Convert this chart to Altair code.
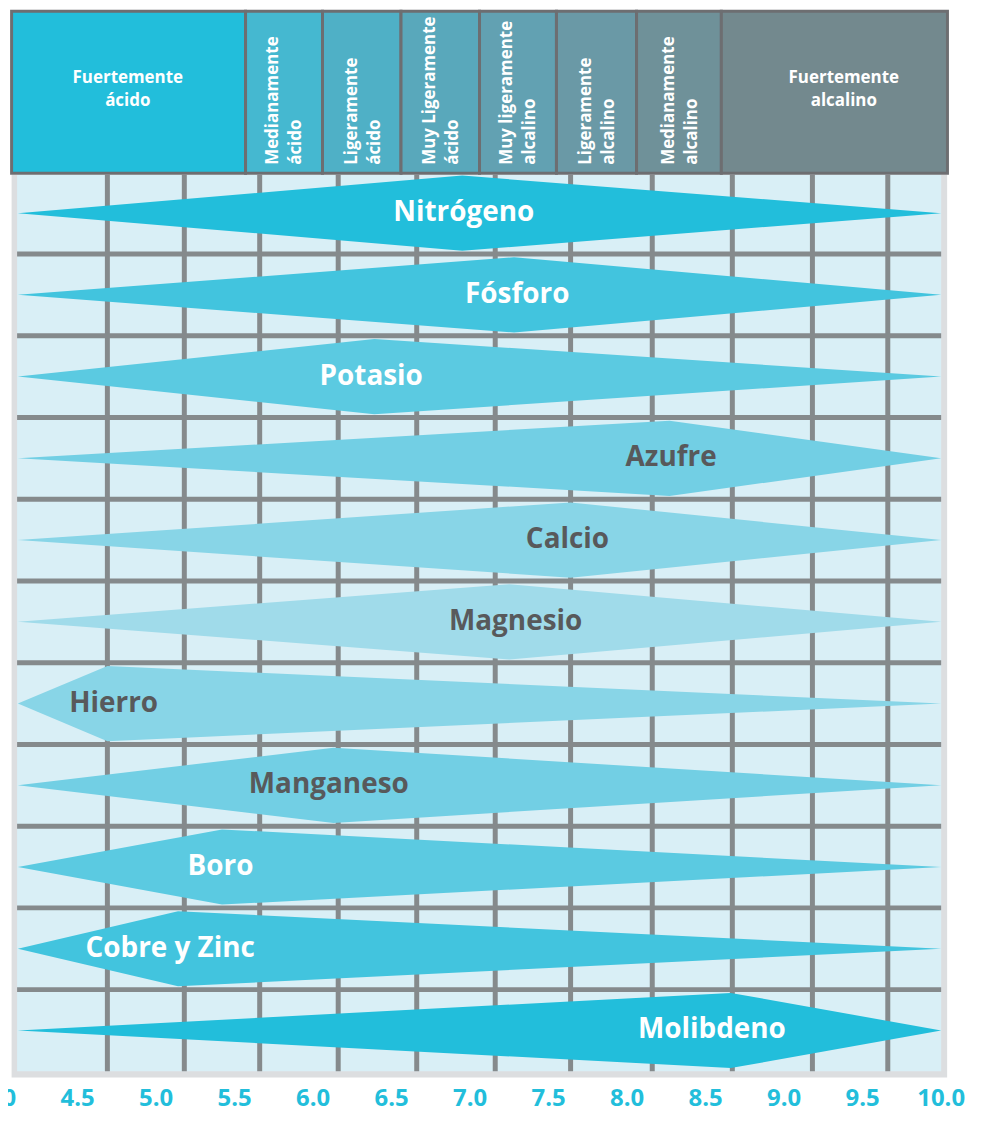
import altair as alt
import pandas as pd

# ---------------- data ----------------
nutrients = ["Nitrógeno", "Fósforo", "Potasio", "Azufre", "Calcio", "Magnesio",
             "Hierro", "Manganeso", "Boro", "Cobre y Zinc", "Molibdeno"]
range_low = [4.12] * 11
peak_ph = [6.95, 7.28, 6.39, 8.27, 7.64, 7.25, 4.69, 6.13, 5.42, 5.14, 8.66]
range_high = [10.0] * 11
label_ph = [6.96, 7.30, 6.37, 8.28, 7.62, 7.29, 4.73, 6.10, 5.41, 5.09, 8.54]
nutrient_colors = ["#22bedb", "#42c4de", "#5bcae1", "#72cfe4", "#88d5e7", "#a0dbea",
                   "#88d5e7", "#72cfe4", "#5bcae1", "#42c4de", "#22bedb"]
label_colors = ["#ffffff", "#ffffff", "#ffffff", "#58595b", "#58595b", "#58595b",
                "#58595b", "#58595b", "#ffffff", "#ffffff", "#ffffff"]

zone_names = ["Fuertemente\nácido", "Medianamente\nácido", "Ligeramente\nácido",
              "Muy Ligeramente\nácido", "Muy ligeramente\nalcalino",
              "Ligeramente\nalcalino", "Medianamente\nalcalino", "Fuertemente\nalcalino"]
zone_bounds = [4.08, 5.57, 6.06, 6.56, 7.06, 7.55, 8.06, 8.6, 10.04]
zone_label_ph = [4.82, 5.81, 6.31, 6.81, 7.30, 7.80, 8.33, 9.38]
zone_colors = ["#22bedb", "#45b8d0", "#4fb0c6", "#59a8bb", "#62a1b2",
               "#6a99a6", "#6f9199", "#73898e"]
zone_rotated = [False, True, True, True, True, True, True, False]

tick_values = [4.0, 4.5, 5.0, 5.5, 6.0, 6.5, 7.0, 7.5, 8.0, 8.5, 9.0, 9.5, 10.0]
grid_ph = [4.69, 5.18, 5.66, 6.16, 6.66, 7.16, 7.64, 8.16, 8.67, 9.18, 9.66]

# ---------------- layout ----------------
W, H = 975, 1106
PX_PER_PH = 157.67
XS = alt.Scale(domain=[4.0571, 4.0571 + W / PX_PER_PH], nice=False, zero=False)
YS = alt.Scale(domain=[-2.482, 10.994], reverse=True, nice=False, zero=False)
HALF = 0.46
PANEL_L, PANEL_R, PANEL_T, PANEL_B = 4.115, 10.0, -0.47, 10.50
OUTER_L, OUTER_R, OUTER_B = 4.08, 10.038, 10.575
HEAD_T, HEAD_B = -2.47, -0.488
LINE_H = 23
ROT_SHIFT_PX = 10
FONT = "Open Sans"


def X(f):
    return alt.X(f, type="quantitative", scale=XS, axis=None)


def Y(f):
    return alt.Y(f, type="quantitative", scale=YS, axis=None)


# panel background
panel = pd.DataFrame([
    {"x": OUTER_L, "x2": OUTER_R, "y": PANEL_T, "y2": OUTER_B, "c": "#dcdee0"},
    {"x": PANEL_L, "x2": PANEL_R, "y": PANEL_T, "y2": PANEL_B, "c": "#d9eff6"},
])
panel_layer = alt.Chart(panel).mark_rect().encode(
    x=X("x"), x2="x2", y=Y("y"), y2="y2",
    fill=alt.Fill("c:N", scale=None))

vgrid = pd.DataFrame({"x": grid_ph, "y": PANEL_T, "y2": PANEL_B})
vgrid_layer = alt.Chart(vgrid).mark_rule(color="#858a8c", strokeWidth=5).encode(
    x=X("x"), y=Y("y"), y2="y2")

hgrid = pd.DataFrame({"y": [i + 0.5 for i in range(len(nutrients) - 1)],
                      "x": PANEL_L, "x2": PANEL_R})
hgrid_layer = alt.Chart(hgrid).mark_rule(color="#858a8c", strokeWidth=5).encode(
    x=X("x"), x2="x2", y=Y("y"))

# diamonds
rows = []
for i, n in enumerate(nutrients):
    for xv, h in [(range_low[i], 0.0), (peak_ph[i], HALF), (range_high[i], 0.0)]:
        rows.append({"nutrient": n, "x": xv, "y": i - h, "y2": i + h,
                     "c": nutrient_colors[i]})
diam = pd.DataFrame(rows)
diam_layer = alt.Chart(diam).mark_area(opacity=1).encode(
    x=X("x"), y=Y("y"), y2="y2",
    fill=alt.Fill("c:N", scale=None),
    detail="nutrient:N")

labels = pd.DataFrame({"t": nutrients, "x": label_ph,
                       "y": list(range(len(nutrients))), "c": label_colors})
label_layer = alt.Chart(labels).mark_text(
    font=FONT, fontSize=28, fontWeight="bold", align="center",
    baseline="alphabetic", dy=8).encode(
    x=X("x"), y=Y("y"), text="t:N", color=alt.Color("c:N", scale=None))

# header
head = pd.DataFrame({
    "name": zone_names,
    "x": zone_bounds[:-1], "x2": zone_bounds[1:],
    "lx": zone_label_ph,
    "y": HEAD_T, "y2": HEAD_B, "c": zone_colors, "rot": zone_rotated,
})
head_layer = alt.Chart(head).mark_rect(stroke="#6d6e71", strokeWidth=3).encode(
    x=X("x"), x2="x2", y=Y("y"), y2="y2", fill=alt.Fill("c:N", scale=None))

head_h = head[~head["rot"]].copy()
head_h["ty"] = (HEAD_T + HEAD_B) / 2
head_h_layer = alt.Chart(head_h).mark_text(
    font=FONT, fontSize=17, fontWeight="bold", color="white", align="center",
    baseline="middle", lineBreak="\n", lineHeight=LINE_H, dy=-LINE_H / 2 - 3).encode(
    x=X("lx"), y=Y("ty"), text="name:N")

head_r = head[head["rot"]].copy()
head_r["ty"] = -0.591
head_r["tx"] = head_r["lx"] - ROT_SHIFT_PX / PX_PER_PH
head_r_layer = alt.Chart(head_r).mark_text(
    font=FONT, fontSize=17, fontWeight="bold", color="white", align="left",
    baseline="middle", angle=270, lineBreak="\n", lineHeight=LINE_H).encode(
    x=X("tx"), y=Y("ty"), text="name:N")

# tick labels
ticks = pd.DataFrame({"x": tick_values, "t": [f"{v:.1f}" for v in tick_values],
                      "y": 10.92})
tick_layer = alt.Chart(ticks).mark_text(
    font=FONT, fontSize=24, fontWeight="bold", color="#22bedb", align="center",
    baseline="alphabetic").encode(x=X("x"), y=Y("y"), text="t:N")

chart = alt.layer(
    panel_layer, vgrid_layer, hgrid_layer, diam_layer, label_layer,
    head_layer, head_h_layer, head_r_layer, tick_layer
).properties(
    width=W, height=H,
    autosize=alt.AutoSizeParams(type="none"),
    padding=0,
    background="white",
).configure_view(stroke=None)

chart.save("out.html", embed_options={"renderer": "svg", "actions": False})
